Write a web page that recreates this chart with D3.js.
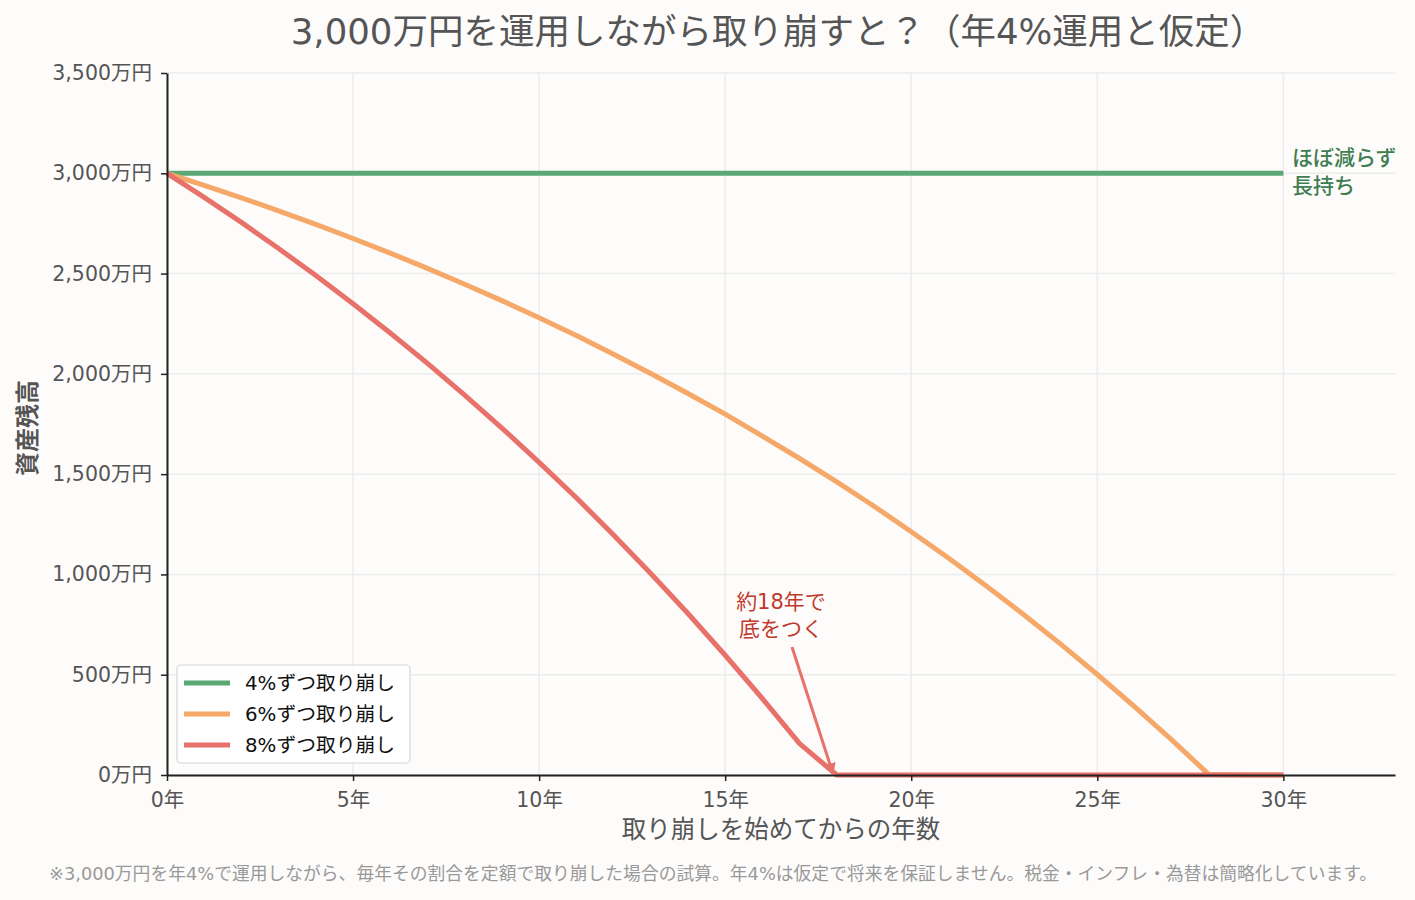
<!DOCTYPE html>
<html><head><meta charset="utf-8">
<script src="https://cdn.jsdelivr.net/npm/d3@7"></script>
<style>
html,body{margin:0;padding:0;background:#fdfcfb;}
text{font-family:"DejaVu Sans","Noto Sans CJK JP",sans-serif;}
</style></head>
<body><svg id="c" width="1415" height="900"></svg>
<script>
const years = d3.range(0, 31);
const withdraw4 = [3000,3000,3000,3000,3000,3000,3000,3000,3000,3000,3000,3000,3000,3000,3000,3000,3000,3000,3000,3000,3000,3000,3000,3000,3000,3000,3000,3000,3000,3000,3000];
const withdraw6 = [3000,2940,2878,2813,2745,2675,2602,2526,2447,2365,2280,2191,2098,2002,1902,1799,1690,1578,1461,1340,1213,1082,945,803,655,501,341,175,2,0,0];
const withdraw8 = [3000,2880,2755,2625,2490,2350,2204,2052,1894,1730,1559,1382,1197,1005,805,597,381,156,0,0,0,0,0,0,0,0,0,0,0,0,0];
const seriesNames = ["4%ずつ取り崩し","6%ずつ取り崩し","8%ずつ取り崩し"];
const seriesColors = ["#5aa874","#f5a868","#e8716a"];
const yTicks = [0,500,1000,1500,2000,2500,3000,3500];
const xTicks = [0,5,10,15,20,25,30];
const titleText = "3,000万円を運用しながら取り崩すと？（年4%運用と仮定）";
const footText = "※3,000万円を年4%で運用しながら、毎年その割合を定額で取り崩した場合の試算。年4%は仮定で将来を保証しません。税金・インフレ・為替は簡略化しています。";

const FF = '"DejaVu Sans","Noto Sans CJK JP",sans-serif';
const svg = d3.select("#c");
const L=167, R=1395, T=73, B=775;
const x = d3.scaleLinear().domain([0,33]).range([L,R]);
const y = d3.scaleLinear().domain([0,3500]).range([B,T]);

// grid
const g = svg.append("g");
g.selectAll(".gx").data(xTicks).enter().append("line")
  .attr("x1",d=>x(d)).attr("x2",d=>x(d)).attr("y1",T).attr("y2",B)
  .attr("stroke","#ececec").attr("stroke-width",1.5);
g.selectAll(".gy").data(yTicks).enter().append("line")
  .attr("x1",L).attr("x2",R).attr("y1",d=>y(d)).attr("y2",d=>y(d))
  .attr("stroke","#ececec").attr("stroke-width",1.5);

// lines
const data = [withdraw4, withdraw6, withdraw8];
const line = d3.line().x((d,i)=>x(years[i])).y(d=>y(d));
data.forEach((s,k)=>{
  svg.append("path").datum(s).attr("d",line).attr("fill","none")
    .attr("stroke",seriesColors[k]).attr("stroke-width",5).attr("stroke-linejoin","round");
});

// axes
const xAxis = svg.append("g").attr("transform",`translate(0,${B})`)
  .call(d3.axisBottom(x).tickValues(xTicks).tickFormat(d=>d+"年").tickSize(6).tickSizeOuter(0));
const yAxis = svg.append("g").attr("transform",`translate(${L},0)`)
  .call(d3.axisLeft(y).tickValues(yTicks).tickFormat(d=>d3.format(",")(d)+"万円").tickSize(6).tickPadding(9).tickSizeOuter(0));
[xAxis,yAxis].forEach(a=>{
  a.select(".domain").attr("stroke","#222").attr("stroke-width",2);
  a.selectAll(".tick line").attr("stroke","#222").attr("stroke-width",1.5);
  a.selectAll(".tick text").attr("fill","#555").style("font-size","20.5px").style("font-family",FF);
});
xAxis.selectAll(".tick text").attr("y",32).attr("dy",0);

// titles
svg.append("text").attr("x",778).attr("y",44).attr("text-anchor","middle")
  .attr("fill","#555").style("font-size","35.5px").text(titleText);
svg.append("text").attr("x",781).attr("y",838).attr("text-anchor","middle")
  .attr("fill","#555").style("font-size","24.5px").text("取り崩しを始めてからの年数");
svg.append("text").attr("transform","translate(36,428) rotate(-90)").attr("text-anchor","middle")
  .attr("fill","#555").style("font-size","24px").style("font-weight","bold").text("資産残高");
svg.append("text").attr("x",713).attr("y",880).attr("text-anchor","middle")
  .attr("fill","#999").style("font-size","17.8px").text(footText);

// green annotation
const ga = svg.append("text").attr("fill","#3f7d52").style("font-size","21px").style("font-weight","500");
ga.append("tspan").attr("x",1292).attr("y",165).text("ほぼ減らず");
ga.append("tspan").attr("x",1292).attr("y",193).text("長持ち");

// red annotation
const ra = svg.append("text").attr("fill","#c0392b").attr("text-anchor","middle").style("font-size","21px");
ra.append("tspan").attr("x",781).attr("y",609).text("約18年で");
ra.append("tspan").attr("x",781).attr("y",636).text("底をつく");
svg.append("defs").append("marker").attr("id","ah").attr("viewBox","0 0 10 10")
  .attr("refX",9).attr("refY",5).attr("markerWidth",4).attr("markerHeight",4).attr("orient","auto")
  .append("path").attr("d","M0,0 L10,5 L0,10 Z").attr("fill","#e8716a");
svg.append("line").attr("x1",792).attr("y1",647).attr("x2",x(17.9)).attr("y2",y(5))
  .attr("stroke","#e8716a").attr("stroke-width",3).attr("marker-end","url(#ah)");

// legend
const lg = svg.append("g");
lg.append("rect").attr("x",177).attr("y",665).attr("width",233).attr("height",98).attr("rx",4)
  .attr("fill","#fff").attr("fill-opacity",0.85).attr("stroke","#d6d6d6").attr("stroke-width",1.2);
seriesNames.forEach((n,k)=>{
  const yy = 683 + k*31;
  lg.append("line").attr("x1",184).attr("x2",230).attr("y1",yy).attr("y2",yy)
    .attr("stroke",seriesColors[k]).attr("stroke-width",5);
  lg.append("text").attr("x",245).attr("y",yy+7).attr("fill","#111").style("font-size","19.8px").text(n);
});
</script></body></html>
